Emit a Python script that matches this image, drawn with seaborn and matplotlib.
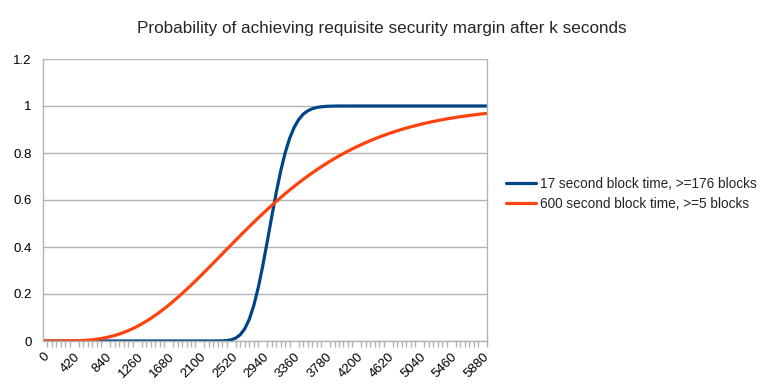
import numpy as np
import pandas as pd
import matplotlib
matplotlib.use("Agg")
import matplotlib.pyplot as plt
import seaborn as sns

# seconds (category axis, step 60)
seconds = list(range(0, 6000, 60))

# 600 second block time, >=5 blocks
orange_vals = [
    0.0, 0.0, 0.0, 0.0, 0.0001, 0.0002, 0.0004, 0.0008, 0.0014, 0.0023,
    0.0037, 0.0054, 0.0078, 0.0107, 0.0142, 0.0186, 0.0237, 0.0296, 0.0364, 0.0441,
    0.0527, 0.0621, 0.0725, 0.0838, 0.0959, 0.1088, 0.1226, 0.1371, 0.1523, 0.1682,
    0.1847, 0.2018, 0.2194, 0.2374, 0.2558, 0.2746, 0.2936, 0.3128, 0.3322, 0.3516,
    0.3712, 0.3907, 0.4101, 0.4295, 0.4488, 0.4679, 0.4868, 0.5054, 0.5237, 0.5418,
    0.5595, 0.5769, 0.5939, 0.6105, 0.6267, 0.6425, 0.6578, 0.6728, 0.6873, 0.7013,
    0.7149, 0.7281, 0.7408, 0.7531, 0.7649, 0.7763, 0.7873, 0.7978, 0.8080, 0.8177,
    0.8270, 0.8359, 0.8445, 0.8527, 0.8605, 0.8679, 0.8751, 0.8819, 0.8883, 0.8945,
    0.9004, 0.9060, 0.9113, 0.9163, 0.9211, 0.9256, 0.9299, 0.9340, 0.9379, 0.9415,
    0.9450, 0.9483, 0.9514, 0.9543, 0.9571, 0.9597, 0.9621, 0.9644, 0.9666, 0.9686,
]

# 17 second block time, >=176 blocks
blue_vals = [
    0.0, 0.0, 0.0, 0.0, 0.0, 0.0, 0.0, 0.0, 0.0, 0.0,
    0.0, 0.0, 0.0, 0.0, 0.0, 0.0, 0.0, 0.0, 0.0, 0.0,
    0.0, 0.0, 0.0, 0.0, 0.0, 0.0, 0.0, 0.0, 0.0, 0.0,
    0.0, 0.0, 0.0, 0.0, 0.0, 0.0, 0.0, 0.0, 0.0001, 0.0002,
    0.0006, 0.0019, 0.0052, 0.0126, 0.0270, 0.0524, 0.0928, 0.151, 0.2275, 0.320,
    0.4227, 0.529, 0.631, 0.723, 0.801, 0.863, 0.909, 0.942, 0.965, 0.979,
    0.988, 0.9936, 0.9966, 0.9983, 0.9992, 0.9997, 0.9999, 1.0, 1.0, 1.0,
    1.0, 1.0, 1.0, 1.0, 1.0, 1.0, 1.0, 1.0, 1.0, 1.0,
    1.0, 1.0, 1.0, 1.0, 1.0, 1.0, 1.0, 1.0, 1.0, 1.0,
    1.0, 1.0, 1.0, 1.0, 1.0, 1.0, 1.0, 1.0, 1.0, 1.0,
]

series_names = ["17 second block time, >=176 blocks", "600 second block time, >=5 blocks"]
series_colors = ["#004586", "#ff420e"]

x_tick_vals = list(range(0, 5881, 420))
y_tick_vals = [0, 0.2, 0.4, 0.6, 0.8, 1.0, 1.2]
y_tick_labels = ["0", "0.2", "0.4", "0.6", "0.8", "1", "1.2"]

title = "Probability of achieving requisite security margin after k seconds"

df = pd.DataFrame({
    "seconds": seconds * 2,
    "p": blue_vals + orange_vals,
    "series": [series_names[0]] * len(seconds) + [series_names[1]] * len(seconds),
})

sns.set_theme(style="white")
plt.rcParams["font.family"] = ["Liberation Sans", "DejaVu Sans"]

fig = plt.figure(figsize=(7.64, 3.89), dpi=100)
ax = fig.add_axes([43 / 764, 1 - 341 / 389, (487 - 43) / 764, (341 - 59) / 389])

sns.lineplot(data=df, x="seconds", y="p", hue="series", hue_order=series_names,
             palette=series_colors, linewidth=2.3, ax=ax, legend=True)

ax.set_xlim(0, 5940)
ax.set_ylim(0, 1.2)
ax.set_xlabel("")
ax.set_ylabel("")
ax.set_yticks(y_tick_vals)
ax.set_yticklabels(y_tick_labels)
ax.set_xticks(x_tick_vals)
ax.set_xticklabels([str(v) for v in x_tick_vals], rotation=45, ha="right",
                   rotation_mode="anchor")
ax.set_xticks(seconds, minor=True)
ax.grid(axis="y", color="#b3b3b3", linewidth=1)
ax.set_axisbelow(True)

for side in ["left", "bottom", "right"]:
    ax.spines[side].set_color("#b3b3b3")
    ax.spines[side].set_linewidth(1)
ax.spines["top"].set_visible(False)

ax.tick_params(axis="both", which="both", colors="#b3b3b3", labelcolor="black",
               labelsize=9.5, direction="out")
ax.tick_params(axis="y", which="major", length=5, width=1, pad=3)
ax.tick_params(axis="x", which="major", length=4, width=1, pad=3)
ax.tick_params(axis="x", which="minor", length=4, width=1, bottom=True)

fig.suptitle(title, x=0.5, y=1 - 29 / 389, va="center", fontsize=12.3)

ax.legend(loc="center left", bbox_to_anchor=(506 / 764, 1 - 194 / 389),
          bbox_transform=fig.transFigure, frameon=False, fontsize=9.8,
          handlelength=2.2, handletextpad=0.3, labelspacing=0.45,
          borderaxespad=0, borderpad=0)

fig.savefig("out.png", dpi=100)
